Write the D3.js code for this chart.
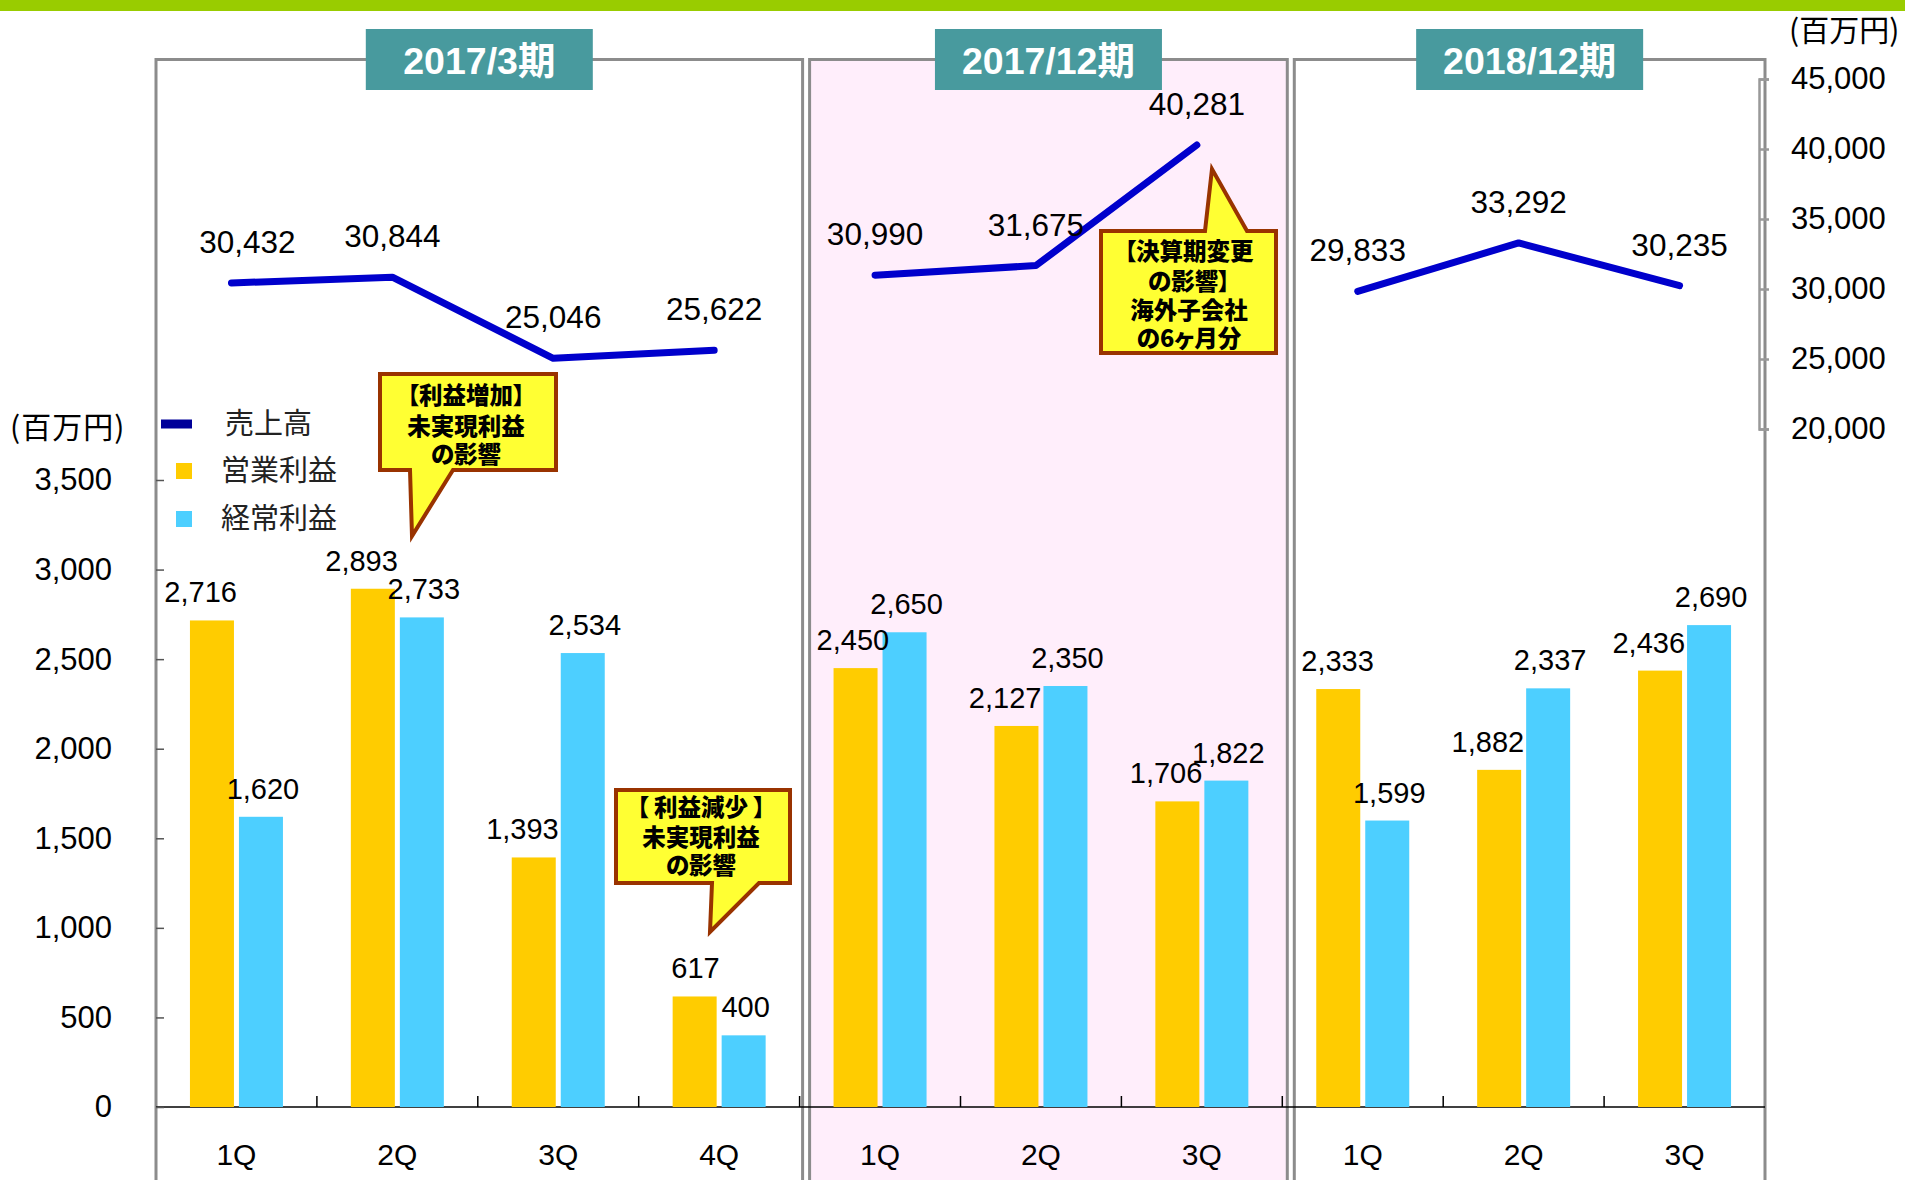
<!DOCTYPE html>
<html>
<head>
<meta charset="utf-8">
<script src="https://cdn.jsdelivr.net/npm/d3@7"></script>
<style>
body { margin: 0; background: #fff; }
svg text { font-family: "Liberation Sans", Arial, "Noto Sans CJK JP", sans-serif; }
.cjk { font-family: "Noto Sans CJK JP", sans-serif !important; font-feature-settings: "palt"; }
</style>
</head>
<body>
<div id="chart"></div>
<script>
// periods and quarters
var periods = ["2017/3期", "2017/12期", "2018/12期"];
var quarters = [["1Q", "2Q", "3Q", "4Q"], ["1Q", "2Q", "3Q"], ["1Q", "2Q", "3Q"]];

// values (百万円)
var sales = [[30432, 30844, 25046, 25622], [30990, 31675, 40281], [29833, 33292, 30235]];
var opProfit = [[2716, 2893, 1393, 617], [2450, 2127, 1706], [2333, 1882, 2436]];
var ordProfit = [[1620, 2733, 2534, 400], [2650, 2350, 1822], [1599, 2337, 2690]];

var leftTicks = [0, 500, 1000, 1500, 2000, 2500, 3000, 3500];
var rightTicks = [20000, 25000, 30000, 35000, 40000, 45000];
var seriesNames = ["売上高", "営業利益", "経常利益"];
var unitLabel = "(百万円)";

var notes = [
  {lines: ["【利益増加】", "未実現利益", "の影響"]},
  {lines: ["【 利益減少 】", "未実現利益", "の影響"]},
  {lines: ["【決算期変更", "の影響】", "海外子会社", "の6ヶ月分"]}
];

var width = 1905, height = 1180;
var fmt = d3.format(",");
var cLine = "#0000cc", cOp = "#ffcc00", cOrd = "#4dcfff";

var svg = d3.select("#chart").append("svg")
    .attr("width", width)
    .attr("height", height);

// flat category keys
var cats = [];
periods.forEach(function (p, i) {
  quarters[i].forEach(function (q, j) {
    cats.push({key: i + "-" + q, p: i, q: q, j: j,
      sales: sales[i][j], op: opProfit[i][j], ord: ordProfit[i][j]});
  });
});

var x = d3.scaleBand()
    .domain(cats.map(function (d) { return d.key; }))
    .range([156, 1765]);
var bw = x.bandwidth();

var yL = d3.scaleLinear().domain([0, 3500]).range([1107, 480]);
var yR = d3.scaleLinear().domain([20000, 45000]).range([429, 79]);

// green strip on top
svg.append("rect").attr("x", 0).attr("y", 0).attr("width", width).attr("height", 11).attr("fill", "#99cc00");

// panels
var panelInset = [[0, 3], [10, 5], [12, 0]];
var panels = periods.map(function (p, i) {
  var first = x(i + "-" + quarters[i][0]);
  var last = x(i + "-" + quarters[i][quarters[i].length - 1]) + bw;
  return {name: p, i: i, left: first + panelInset[i][0], right: last + panelInset[i][1]};
});

svg.append("g").selectAll("path")
  .data(panels)
  .enter().append("path")
    .attr("d", function (d) { return "M" + d.left + ",1200V59.5H" + d.right + "V1200"; })
    .attr("fill", function (d) { return d.i === 1 ? "#ffeefb" : "none"; })
    .attr("stroke", "#8c8c8c")
    .attr("stroke-width", 3);

// title boxes
var tb = svg.append("g").selectAll("g")
  .data(panels)
  .enter().append("g")
    .attr("transform", function (d) { return "translate(" + ((d.left + d.right) / 2) + ",29)"; });
tb.append("rect")
    .attr("x", -113.5).attr("width", 227).attr("height", 61)
    .attr("fill", "#489a9e");
tb.append("text")
    .attr("y", 31).attr("dy", "0.36em")
    .attr("text-anchor", "middle")
    .attr("fill", "#fff")
    .attr("font-weight", "bold")
    .attr("font-size", 37.5)
    .text(function (d) { return d.name; });

// baseline + category ticks
svg.append("line")
    .attr("x1", 156).attr("x2", 1765).attr("y1", yL(0)).attr("y2", yL(0))
    .attr("stroke", "#000").attr("stroke-width", 1.5);
svg.append("g").selectAll("line")
  .data(cats.slice(1))
  .enter().append("line")
    .attr("x1", function (d) { return x(d.key); })
    .attr("x2", function (d) { return x(d.key); })
    .attr("y1", yL(0)).attr("y2", yL(0) - 11)
    .attr("stroke", "#000").attr("stroke-width", 1.5);

// category labels
svg.append("g").selectAll("text")
  .data(cats)
  .enter().append("text")
    .attr("x", function (d) { return x(d.key) + bw / 2; })
    .attr("y", 1154).attr("dy", "0.35em")
    .attr("text-anchor", "middle")
    .attr("font-size", 30)
    .text(function (d) { return d.q; });

// bars
var barW = 44, gap = 5;
var bars = svg.append("g");
bars.selectAll(".op")
  .data(cats)
  .enter().append("rect")
    .attr("x", function (d) { return x(d.key) + bw / 2 - gap / 2 - barW; })
    .attr("y", function (d) { return yL(d.op); })
    .attr("width", barW)
    .attr("height", function (d) { return yL(0) - yL(d.op); })
    .attr("fill", cOp);
bars.selectAll(".ord")
  .data(cats)
  .enter().append("rect")
    .attr("x", function (d) { return x(d.key) + bw / 2 + gap / 2; })
    .attr("y", function (d) { return yL(d.ord); })
    .attr("width", barW)
    .attr("height", function (d) { return yL(0) - yL(d.ord); })
    .attr("fill", cOrd);

// bar labels
var labs = svg.append("g").attr("font-size", 29);
labs.selectAll(".lop")
  .data(cats)
  .enter().append("text")
    .attr("text-anchor", "end")
    .attr("y", function (d) { return yL(d.op) - 18; })
    .text(function (d) { return fmt(d.op); })
    .attr("x", function (d) {
      var w = this.getComputedTextLength();
      var barRight = x(d.key) + bw / 2 - gap / 2;
      return Math.max(barRight + 3, panels[d.p].left + 7 + w);
    });
labs.selectAll(".lord")
  .data(cats)
  .enter().append("text")
    .attr("text-anchor", "middle")
    .attr("x", function (d) { return x(d.key) + bw / 2 + gap / 2 + barW / 2 + 2; })
    .attr("y", function (d) { return yL(d.ord) - 18; })
    .text(function (d) { return fmt(d.ord); });

// sales lines, one per period
var lineX = function (d) { return x(d.key) + bw / 2 - 5; };
var line = d3.line().x(lineX).y(function (d) { return yR(d.sales); });
svg.append("g").selectAll("path")
  .data(periods.map(function (p, i) { return cats.filter(function (c) { return c.p === i; }); }))
  .enter().append("path")
    .attr("d", line)
    .attr("fill", "none")
    .attr("stroke", cLine)
    .attr("stroke-width", 7)
    .attr("stroke-linejoin", "round")
    .attr("stroke-linecap", "round");

svg.append("g").attr("font-size", 31.5).selectAll("text")
  .data(cats)
  .enter().append("text")
    .attr("x", function (d) { return lineX(d) + (d.p === 0 && d.j === 0 ? 16 : 0); })
    .attr("y", function (d) { return yR(d.sales) - 30; })
    .attr("text-anchor", "middle")
    .text(function (d) { return fmt(d.sales); });

// left axis
var ax = svg.append("g")
    .attr("transform", "translate(156,0)")
    .call(d3.axisLeft(yL).tickValues(leftTicks).tickSize(-8).tickPadding(44).tickFormat(fmt));
ax.select(".domain").remove();
ax.attr("font-size", 31).attr("font-family", null);
ax.selectAll(".tick line").attr("stroke", "#555").attr("stroke-width", 1.5);
ax.selectAll(".tick text").attr("fill", "#000");

// right axis
var axR = svg.append("g")
    .attr("transform", "translate(1759,0)")
    .call(d3.axisRight(yR).tickValues(rightTicks).tickSize(10).tickPadding(22).tickFormat(fmt));
axR.attr("font-size", 31).attr("font-family", null);
axR.select(".domain").attr("stroke", "#999").attr("stroke-width", 2.5);
axR.selectAll(".tick line").attr("stroke", "#999").attr("stroke-width", 2.5);
axR.selectAll(".tick text").attr("fill", "#000");

// unit labels
svg.append("text").attr("class", "cjk")
    .attr("x", 10).attr("y", 427).attr("dy", "0.36em")
    .attr("font-size", 30).attr("letter-spacing", 1).text(unitLabel);
svg.append("text").attr("class", "cjk")
    .attr("x", 1789).attr("y", 30).attr("dy", "0.36em")
    .attr("font-size", 30).text(unitLabel);

// legend
var lg = svg.append("g");
var legendRows = [424, 471, 519];
lg.append("rect").attr("x", 161).attr("y", legendRows[0] - 4.5).attr("width", 31).attr("height", 9).attr("fill", "#000099");
lg.append("rect").attr("x", 176).attr("y", legendRows[1] - 8).attr("width", 16).attr("height", 16).attr("fill", cOp);
lg.append("rect").attr("x", 176).attr("y", legendRows[2] - 8).attr("width", 16).attr("height", 16).attr("fill", cOrd);
lg.selectAll("text")
  .data(seriesNames)
  .enter().append("text")
    .attr("class", "cjk")
    .attr("x", function (d, i) { return i === 0 ? 225 : 221; })
    .attr("y", function (d, i) { return legendRows[i]; })
    .attr("dy", "0.36em")
    .attr("font-size", 29)
    .attr("fill", "#222")
    .text(function (d) { return d; });

// callouts
var callouts = [
  {box: [380, 374, 556, 470], tail: [410, 453, 412, 536], side: "bottom", cx: 466, rows: [396, 427, 455]},
  {box: [616, 790, 790, 883], tail: [712, 759, 710, 932], side: "bottom", cx: 701, rows: [808, 838, 866]},
  {box: [1101, 231, 1276, 353], tail: [1205, 1247, 1212, 169], side: "top", cx: 1189, rows: [252, 282, 311, 339]}
];
callouts.forEach(function (c, i) {
  var b = c.box, t = c.tail, p;
  if (c.side === "bottom") {
    p = "M" + b[0] + "," + b[1] + "H" + b[2] + "V" + b[3] + "H" + t[1] + "L" + t[2] + "," + t[3] + "L" + t[0] + "," + b[3] + "H" + b[0] + "Z";
  } else {
    p = "M" + b[0] + "," + b[1] + "H" + t[0] + "L" + t[2] + "," + t[3] + "L" + t[1] + "," + b[1] + "H" + b[2] + "V" + b[3] + "H" + b[0] + "Z";
  }
  var g = svg.append("g");
  g.append("path").attr("d", p)
      .attr("fill", "#ffff33")
      .attr("stroke", "#993300")
      .attr("stroke-width", 4)
      .attr("stroke-linejoin", "miter");
  g.append("text")
      .attr("class", "cjk")
      .attr("text-anchor", "middle")
      .attr("font-size", 23.5)
      .attr("font-weight", 900)
    .selectAll("tspan")
    .data(notes[i].lines)
    .enter().append("tspan")
      .attr("x", c.cx)
      .attr("y", function (d, k) { return c.rows[k]; })
      .attr("dy", "0.36em")
      .text(function (d) { return d; });
});
</script>
</body>
</html>
